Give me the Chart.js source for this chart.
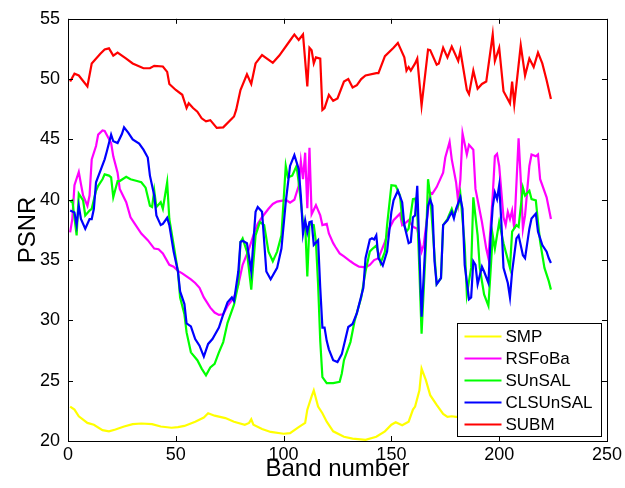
<!DOCTYPE html>
<html>
<head>
<meta charset="utf-8">
<script src="https://cdn.jsdelivr.net/npm/chart.js@4.4.1/dist/chart.umd.min.js"></script>
<style>
  html, body { margin: 0; padding: 0; background: #ffffff; }
  #wrap { width: 625px; height: 488px; }
</style>
</head>
<body>
<div id="wrap"><canvas id="psnrChart" width="625" height="488"></canvas></div>
<script>
// band numbers / PSNR values (one pair of arrays per method)
const smpBands = [1,3,5,9,12,16,19,22,26,30,34,39,43,48,51,54,59,63,65,68,73,77,82,84,85,86,90,94,100,103,107,110,111,113,114,116,118,120,123,128,132,138,143,147,150,152,155,158,160,161,163,164,166,168,171,174,176,178,180,190,200,210,224];
const smpPsnr  = [22.85,22.6,22.05,21.5,21.35,20.9,20.8,20.95,21.2,21.4,21.45,21.4,21.2,21.1,21.15,21.25,21.6,21.95,22.3,22.1,21.9,21.6,21.35,21.5,21.8,21.35,21.0,20.75,20.6,20.65,21.15,21.5,22.6,23.7,24.2,22.85,22.3,21.6,20.8,20.35,20.2,20.1,20.35,20.8,21.35,21.55,21.3,21.6,22.6,22.85,24.2,26.0,25.05,23.8,23.0,22.25,22.0,22.05,22.0,22.0,21.9,21.9,21.8];

const rsfBands = [1,2,3,5,6,7,9,10,11,13,14,16,17,20,21,23,24,27,29,31,34,37,40,42,44,47,49,51,53,55,57,59,61,63,66,68,70,72,74,77,79,81,84,86,88,90,93,95,97,100,101,103,105,107,108,109,110,111,112,113,115,117,118,120,121,123,124,126,128,131,133,135,138,140,142,144,147,149,151,154,155,157,158,160,162,164,165,168,169,171,174,175,177,178,180,181,182,183,185,186,188,189,192,194,195,197,198,199,200,202,203,204,205,206,207,209,210,211,212,214,215,217,218,219,222,224];
const rsfPsnr  = [37.3,38.4,41.2,42.3,41.3,40.35,39.5,40.35,43.35,44.45,45.4,45.75,45.7,44.7,43.6,42.25,40.9,39.8,38.55,38.0,37.2,36.65,35.95,35.9,35.55,34.6,34.45,34.1,33.9,33.65,33.4,33.1,32.7,31.9,31.05,30.65,30.45,30.5,31.2,31.9,32.95,34.6,35.95,37.05,38.0,38.55,39.25,39.65,39.85,39.95,40.0,39.75,40.0,41.15,43.2,41.7,43.9,39.3,44.3,38.8,39.55,38.7,37.9,38.0,37.2,36.4,36.1,35.55,35.3,34.9,34.65,34.45,34.4,34.6,35.0,35.15,36.5,37.6,38.3,38.85,37.9,38.15,38.3,37.75,37.6,35.7,36.25,40.6,40.5,41.05,42.25,43.5,44.8,43.35,41.45,39.8,41.7,45.5,43.75,44.55,44.15,40.9,38.15,35.95,35.15,40.35,43.6,43.8,42.8,38.55,37.9,39.0,38.4,39.1,37.6,45.1,41.7,37.6,38.7,42.8,43.75,43.6,43.75,41.7,40.2,38.4];

const sunBands = [1,2,4,5,7,8,10,11,13,14,16,17,19,20,21,23,24,27,29,32,34,36,38,39,40,41,43,44,45,46,47,49,51,52,54,55,57,60,62,64,66,68,70,72,74,77,79,80,81,83,85,87,89,91,93,95,97,99,101,102,104,106,107,109,110,111,112,114,115,116,117,118,120,123,126,127,128,131,133,136,138,140,141,143,145,147,148,150,152,154,155,157,158,160,161,162,163,164,166,167,168,170,171,173,174,176,178,179,181,182,184,185,187,188,190,191,193,195,196,197,198,200,202,205,206,208,209,211,212,214,215,217,218,219,221,223,224];
const sunPsnr  = [39.8,39.95,37.05,40.5,39.95,38.7,39.1,39.25,40.75,41.15,41.7,42.1,42.0,41.85,40.2,41.55,41.55,41.9,41.7,41.55,41.45,41.0,39.5,39.4,40.75,39.4,39.8,39.25,40.35,41.45,38.4,36.25,34.05,31.9,30.5,29.0,27.35,26.7,26.0,25.45,26.1,26.4,27.35,28.2,29.8,31.3,33.0,36.5,36.8,35.7,32.55,37.05,38.15,37.9,35.7,34.9,35.7,37.05,42.8,41.85,42.0,42.8,41.45,38.15,38.0,33.65,38.0,37.9,36.5,33.0,28.3,25.3,24.8,24.8,24.9,25.6,26.7,28.2,30.0,31.9,34.05,35.7,35.9,36.2,34.75,35.7,37.9,41.2,41.15,40.35,38.4,37.35,37.6,40.05,40.1,39.0,34.05,28.9,36.25,41.7,40.35,35.4,33.0,33.5,37.9,38.4,39.25,38.7,39.5,40.45,36.25,32.15,34.35,40.2,37.05,34.35,32.15,31.2,34.05,37.05,35.95,38.15,36.4,34.35,37.35,37.9,37.75,41.0,40.35,40.75,40.05,39.95,38.15,36.5,34.35,33.25,32.55];

const clsBands = [1,3,4,5,6,8,10,11,12,13,15,17,18,20,21,23,25,26,28,30,33,35,37,38,40,41,43,44,46,47,49,51,52,54,55,57,59,61,63,65,67,70,72,74,76,77,79,80,81,83,85,87,88,90,92,94,97,99,101,103,105,107,108,109,110,111,112,113,114,116,117,118,119,120,121,123,125,127,130,132,134,137,138,140,141,142,143,144,146,148,150,151,153,155,156,158,159,160,161,162,163,164,166,167,168,169,170,171,173,174,176,178,179,180,182,183,184,186,187,188,189,190,192,193,195,196,197,198,199,200,201,202,204,205,206,208,209,211,212,214,215,217,218,220,222,223,224];
const clsPsnr  = [39.1,38.95,37.9,39.5,38.4,37.6,38.4,38.4,39.25,41.45,42.4,43.35,44.0,45.4,44.85,44.7,45.45,46.0,45.55,45.0,44.65,44.15,43.5,42.0,40.35,38.7,37.9,38.0,38.5,37.9,35.7,34.05,32.4,31.35,29.75,29.5,28.45,27.9,27.0,28.05,28.45,29.4,30.5,31.5,31.9,31.6,34.05,36.5,36.6,36.4,34.05,39.0,39.4,39.0,34.05,33.4,34.35,35.95,39.8,42.8,43.7,42.55,40.35,37.2,38.3,37.3,38.15,38.2,36.25,36.65,32.7,29.4,29.4,28.3,27.6,26.7,26.55,27.2,29.45,29.7,30.6,32.7,35.15,36.7,36.8,36.7,37.05,35.15,34.55,35.7,39.0,39.95,40.75,39.8,37.9,36.4,36.5,38.55,38.7,41.15,35.7,30.3,37.2,39.5,40.0,39.5,34.9,33.0,33.5,37.9,38.3,39.0,38.45,39.25,40.2,39.25,34.6,31.75,31.9,34.9,34.6,33.0,34.45,34.05,33.1,36.8,39.4,40.6,40.05,41.2,38.15,34.35,33.1,31.9,34.05,36.8,37.05,35.4,35.15,37.6,38.45,38.85,37.35,36.25,35.7,35.15,34.75];

const subBands = [1,3,5,9,11,15,17,19,21,23,27,30,35,38,40,44,46,47,50,53,55,56,58,60,62,64,66,69,72,77,78,80,83,85,87,90,95,98,103,105,107,109,111,112,113,114,115,117,118,119,121,123,125,128,130,132,134,136,138,143,144,147,151,153,156,157,158,159,161,162,164,167,168,171,172,174,176,178,181,182,185,186,188,190,192,194,197,198,200,202,205,206,207,210,212,214,216,218,220,222,224];
const subPsnr  = [49.8,50.45,50.3,49.4,51.3,52.1,52.45,52.55,51.95,52.2,51.7,51.3,50.9,50.9,51.1,51.05,50.6,49.6,49.1,48.7,47.6,48.0,47.6,47.3,46.75,46.5,46.6,45.95,46.0,46.9,47.45,49.1,50.4,49.6,51.3,52.0,51.35,51.95,53.2,53.7,53.25,53.7,49.4,52.6,52.4,51.3,51.8,51.7,47.45,47.6,48.7,48.2,48.4,49.8,50.0,49.3,49.5,50.0,50.3,50.5,50.5,51.9,52.6,53.0,51.8,50.7,51.0,50.7,51.3,51.7,47.8,52.45,52.4,51.2,51.3,52.6,51.8,52.7,51.5,52.35,49.1,48.75,50.7,49.2,49.6,49.8,53.7,51.5,52.6,49.0,48.0,49.8,47.9,52.8,50.3,51.7,51.0,52.2,51.3,49.9,48.35];

const methodNames  = ['SMP', 'RSFoBa', 'SUnSAL', 'CLSUnSAL', 'SUBM'];
const methodColors = ['#ffff00', '#ff00ff', '#00ff00', '#0000ff', '#ff0000'];
const xTicks = [0, 50, 100, 150, 200, 250];
const yTicks = [20, 25, 30, 35, 40, 45, 50, 55];

const FONT = '"Liberation Sans", Arial, Helvetica, sans-serif';

function pairs(bands, vals) {
    return bands.map((b, i) => ({ x: b, y: vals[i] }));
}

const seriesData = [
    pairs(smpBands, smpPsnr),
    pairs(rsfBands, rsfPsnr),
    pairs(sunBands, sunPsnr),
    pairs(clsBands, clsPsnr),
    pairs(subBands, subPsnr)
];

// matlab-like box, inward ticks on all four sides
const boxTicks = {
    id: 'boxTicks',
    afterDraw(chart) {
        const { ctx, chartArea: a, scales } = chart;
        ctx.save();
        ctx.strokeStyle = '#000';
        ctx.lineWidth = 1;
        ctx.beginPath();
        xTicks.forEach(v => {
            const px = Math.round(scales.x.getPixelForValue(v)) + 0.5;
            ctx.moveTo(px, a.bottom); ctx.lineTo(px, a.bottom - 5);
            ctx.moveTo(px, a.top); ctx.lineTo(px, a.top + 5);
        });
        yTicks.forEach(v => {
            const py = Math.round(scales.y.getPixelForValue(v)) + 0.5;
            ctx.moveTo(a.left, py); ctx.lineTo(a.left + 5, py);
            ctx.moveTo(a.right, py); ctx.lineTo(a.right - 5, py);
        });
        ctx.stroke();
        ctx.strokeRect(Math.round(a.left) + 0.5, Math.round(a.top) + 0.5,
                       Math.round(a.right - a.left), Math.round(a.bottom - a.top));
        ctx.restore();
    }
};

// legend box inside the lower right corner
const innerLegend = {
    id: 'innerLegend',
    afterDraw(chart) {
        const { ctx, chartArea: a } = chart;
        const w = 144, h = 113;
        const left = Math.round(a.right - 6 - w) + 0.5;
        const top = Math.round(a.bottom - 5 - h) + 0.5;
        ctx.save();
        ctx.fillStyle = '#fff';
        ctx.fillRect(left, top, w, h);
        ctx.strokeStyle = '#000';
        ctx.lineWidth = 1;
        ctx.strokeRect(left, top, w, h);
        ctx.font = '17px ' + FONT;
        ctx.textBaseline = 'middle';
        ctx.textAlign = 'left';
        chart.data.datasets.forEach((ds, i) => {
            const y = top + 13 + i * 22;
            ctx.strokeStyle = ds.borderColor;
            ctx.lineWidth = 2;
            ctx.beginPath();
            ctx.moveTo(left + 7, y);
            ctx.lineTo(left + 44, y);
            ctx.stroke();
            ctx.fillStyle = '#000';
            ctx.fillText(ds.label, left + 48, y + 1);
        });
        ctx.restore();
    }
};

new Chart(document.getElementById('psnrChart').getContext('2d'), {
    type: 'line',
    data: {
        datasets: methodNames.map((name, i) => ({
            label: name,
            data: seriesData[i],
            borderColor: methodColors[i],
            backgroundColor: methodColors[i],
            borderWidth: 2.2,
            pointRadius: 0,
            tension: 0,
            fill: false,
            order: methodNames.length - i
        }))
    },
    options: {
        responsive: false,
        animation: false,
        layout: { padding: { top: 13, right: 16, left: 0, bottom: 0 } },
        plugins: {
            legend: { display: false },
            tooltip: { enabled: false }
        },
        scales: {
            x: {
                type: 'linear',
                min: 0, max: 250,
                afterBuildTicks: s => { s.ticks = xTicks.map(v => ({ value: v })); },
                afterFit: s => { s.height = 47; },
                grid: { display: false, drawTicks: false },
                border: { display: false },
                ticks: { color: '#000', font: { family: FONT, size: 18 }, padding: 3, maxRotation: 0 },
                title: { display: true, text: 'Band number', color: '#000',
                         font: { family: FONT, size: 24 }, padding: { top: 0, bottom: 4 } }
            },
            y: {
                min: 20, max: 55,
                afterBuildTicks: s => { s.ticks = yTicks.map(v => ({ value: v })); },
                afterFit: s => { s.width = 68; },
                grid: { display: false, drawTicks: false },
                border: { display: false },
                ticks: { color: '#000', font: { family: FONT, size: 18 }, padding: 8 },
                title: { display: true, text: 'PSNR', color: '#000',
                         font: { family: FONT, size: 24 }, padding: { top: 14, bottom: 0 } }
            }
        }
    },
    plugins: [boxTicks, innerLegend]
});
</script>
</body>
</html>
